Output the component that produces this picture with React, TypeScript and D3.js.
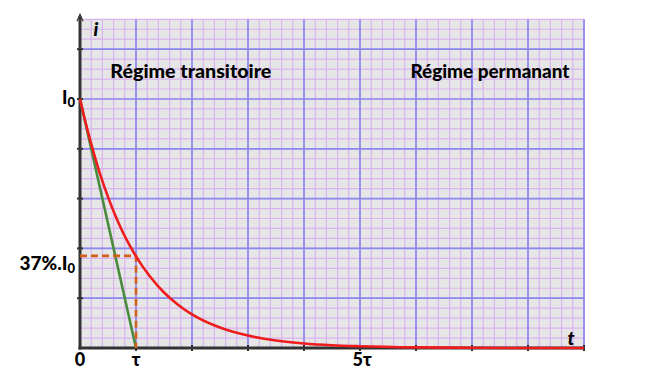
import React from "react";
import * as d3 from "d3";

// Time in units of tau, current as a fraction of I0
const tValues = [0, 0.125, 0.25, 0.375, 0.5, 0.625, 0.75, 0.875, 1, 1.25, 1.5, 1.75, 2, 2.5, 3, 3.5, 4, 4.5, 5, 6, 7, 8, 9];
const iValues = [1.0, 0.883, 0.78, 0.687, 0.607, 0.535, 0.472, 0.417, 0.368, 0.287, 0.223, 0.174, 0.135, 0.082, 0.05, 0.03, 0.018, 0.011, 0.007, 0.0025, 0.001, 0, 0];

// tangent at origin: from (0, I0) to (tau, 0)
const tangentT = [0, 1];
const tangentI = [1, 0];

// 37% marker
const tauT = 1;
const tauI = 0.37;

const xTickValues = [0, 1, 5];
const xTickLabels = ["0", "τ", "5τ"];

const regionLabels = ["Régime transitoire", "Régime permanant"];
const regionCenters = [1.98, 7.32];
const regionWidths = [161, 159];

const W = 650;
const H = 374;

export default function App() {
  const x = d3.scaleLinear().domain([0, 9]).range([80, 584]);
  const y = d3.scaleLinear().domain([0, 1.32]).range([348, 19.3]);

  const minorX = d3.range(0, 9.0001, 0.2);
  const majorX = d3.range(0, 9.0001, 1);
  const minorY = d3.range(0, 1.3201, 0.04);
  const majorY = d3.range(0, 1.3201, 0.2);

  const curve = d3
    .line<number>()
    .x((_, k) => x(tValues[k]))
    .y((d) => y(d))
    .curve(d3.curveMonotoneX)(iValues) as string;

  const tangent = d3
    .line<number>()
    .x((_, k) => x(tangentT[k]))
    .y((d) => y(d))(tangentI) as string;

  const font = "Lato, 'DejaVu Sans', sans-serif";

  return (
    <svg width={W} height={H} style={{ position: "absolute", left: 0, top: 0 }}>
      <rect x={0} y={0} width={W} height={H} fill="#ffffff" />
      <rect x={x(0)} y={y(1.32)} width={x(9) - x(0)} height={y(0) - y(1.32)} fill="#e6e6e6" />
      {minorX.map((v, k) => (
        <line key={"mx" + k} x1={x(v)} x2={x(v)} y1={y(0)} y2={y(1.32)} stroke="#d9b2ef" strokeWidth={1.2} />
      ))}
      {minorY.map((v, k) => (
        <line key={"my" + k} x1={x(0)} x2={x(9)} y1={y(v)} y2={y(v)} stroke="#d9b2ef" strokeWidth={1.2} />
      ))}
      {majorX.map((v, k) => (
        <line key={"Mx" + k} x1={x(v)} x2={x(v)} y1={y(0)} y2={y(1.32)} stroke="#8c88ee" strokeWidth={1.7} />
      ))}
      {majorY.map((v, k) => (
        <line key={"My" + k} x1={x(0)} x2={x(9)} y1={y(v)} y2={y(v)} stroke="#8c88ee" strokeWidth={1.7} />
      ))}

      {/* axes */}
      <line x1={x(0)} x2={x(0)} y1={y(0) + 1.5} y2={y(1.32) - 3} stroke="#333" strokeWidth={3} />
      <path d={`M${x(0) - 3},${y(1.32) + 2} L${x(0)},${y(1.32) - 5} L${x(0) + 3},${y(1.32) + 2}`} fill="none" stroke="#333" strokeWidth={1.2} />
      <line x1={x(0) - 1.5} x2={x(9)} y1={y(0)} y2={y(0)} stroke="#333" strokeWidth={3} />
      {majorX.slice(1).map((v, k) => (
        <line key={"tx" + k} x1={x(v)} x2={x(v)} y1={y(0) - 3} y2={y(0) + 3} stroke="#333" strokeWidth={2} />
      ))}
      {majorY.slice(1).map((v, k) => (
        <line key={"ty" + k} x1={x(0) - 3} x2={x(0) + 3} y1={y(v)} y2={y(v)} stroke="#333" strokeWidth={2} />
      ))}

      {/* tangent */}
      <path d={tangent} fill="none" stroke="#4a8a3c" strokeWidth={2.6} />
      {/* 37% dashed guides */}
      <path
        d={`M${x(0)},${y(tauI)} H${x(tauT)} V${y(0)}`}
        fill="none"
        stroke="#d2601a"
        strokeWidth={2.6}
        strokeDasharray="7,4"
      />
      {/* exponential */}
      <path d={curve} fill="none" stroke="#ee1c1c" strokeWidth={2.6} />

      {/* labels */}
      <g fontFamily={font} fontWeight={900} fill="#000">
        {regionLabels.map((s, k) => (
          <text
            key={s}
            x={x(regionCenters[k])}
            y={78}
            textAnchor="middle"
            fontSize={18}
            textLength={regionWidths[k]}
            lengthAdjust="spacingAndGlyphs"
          >
            {s}
          </text>
        ))}
        <text x={75} y={y(1) + 5} textAnchor="end" fontSize={18}>
          I<tspan fontSize={13} dy={3}>0</tspan>
        </text>
        <text x={75} y={y(tauI) + 14} textAnchor="end" fontSize={19}>
          37%.I<tspan fontSize={13} dy={3}>0</tspan>
        </text>
        {xTickValues.map((v, k) => (
          <text key={"xl" + k} x={x(v) + (k === 2 ? 2 : 0)} y={366} textAnchor="middle" fontSize={18}>
            {xTickLabels[k]}
          </text>
        ))}
        <text x={96} y={36} textAnchor="middle" fontSize={19} fontStyle="italic">
          i
        </text>
        <text x={571} y={345} textAnchor="middle" fontSize={19} fontStyle="italic">
          t
        </text>
      </g>
    </svg>
  );
}
